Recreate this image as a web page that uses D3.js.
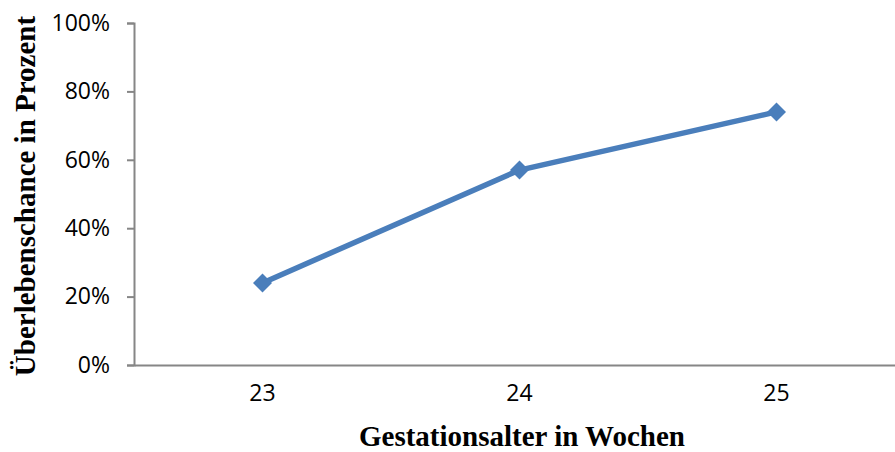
<!DOCTYPE html>
<html><head><meta charset="utf-8">
<script src="https://cdn.jsdelivr.net/npm/d3@7"></script>
<style>body{margin:0;background:#fff}svg{display:block}</style>
</head><body>
<svg id="c" width="895" height="452"></svg>
<script>
const categories = ["23", "24", "25"];
const survival = [0.24, 0.57, 0.74];
const yTicks = [0, 0.2, 0.4, 0.6, 0.8, 1.0];
const xTitle = "Gestationsalter in Wochen";
const yTitle = "Überlebenschance in Prozent";

const svg = d3.select("#c");
const mLeft = 134, mRight = 905, mTop = 23, mBottom = 365;
const x = d3.scaleBand().domain(categories).range([mLeft, mRight]);
const y = d3.scaleLinear().domain([0, 1]).range([mBottom, mTop]);
const axisColor = "#868686";

const yAxis = svg.append("g").attr("transform", `translate(${mLeft},0)`)
  .call(d3.axisLeft(y).tickValues(yTicks).tickSize(7).tickPadding(17).tickFormat(d3.format(".0%")));
yAxis.select(".domain").attr("stroke", axisColor).attr("stroke-width", 2);
yAxis.selectAll(".tick line").attr("stroke", axisColor).attr("stroke-width", 2);
yAxis.selectAll(".tick text").attr("font-family", "'Open Sans', sans-serif").attr("font-size", 23).attr("fill", "#000");

const xAxis = svg.append("g").attr("transform", `translate(0,${mBottom})`)
  .call(d3.axisBottom(x).tickSize(0).tickPadding(20));
xAxis.select(".domain").attr("stroke", axisColor).attr("stroke-width", 2);
xAxis.selectAll(".tick text").attr("font-family", "'Open Sans', sans-serif").attr("font-size", 23).attr("fill", "#000");

const pts = categories.map((c, i) => [x(c) + x.bandwidth() / 2, y(survival[i])]);
svg.append("path").attr("d", d3.line()(pts)).attr("fill", "none")
  .attr("stroke", "#4a7ebb").attr("stroke-width", 5.5).attr("stroke-linejoin", "round");
svg.selectAll(".m").data(pts).join("path").attr("class", "m")
  .attr("d", d3.symbol(d3.symbolDiamond2, 230)())
  .attr("transform", d => `translate(${d[0]},${d[1]})`)
  .attr("fill", "#4a7ebb");

svg.append("text").attr("x", 522).attr("y", 446).attr("text-anchor", "middle")
  .attr("font-family", "'Liberation Serif', 'Times New Roman', serif").attr("font-weight", "bold")
  .attr("font-size", 29).text(xTitle);
svg.append("text").attr("transform", "translate(35,196) rotate(-90)").attr("text-anchor", "middle")
  .attr("font-family", "'Liberation Serif', 'Times New Roman', serif").attr("font-weight", "bold")
  .attr("font-size", 29).text(yTitle);
</script>
</body></html>
